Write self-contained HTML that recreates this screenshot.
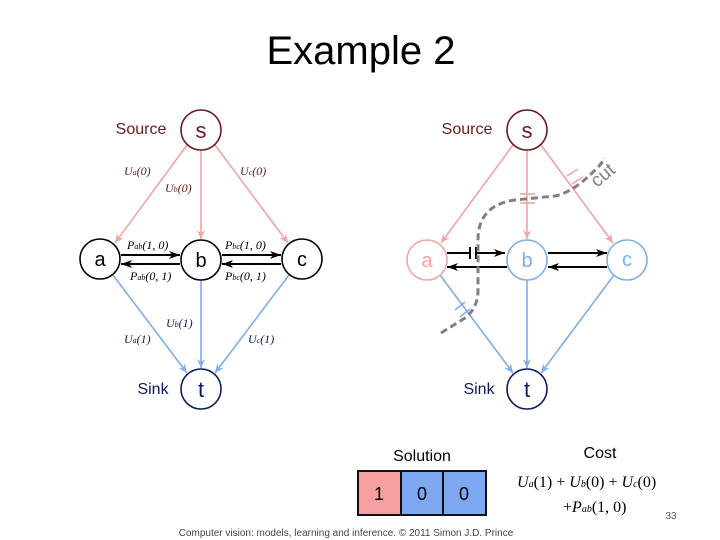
<!DOCTYPE html>
<html><head><meta charset="utf-8"><style>
html,body{margin:0;padding:0;background:#fff;}
svg{display:block;}
</style></head><body>
<svg width="720" height="540" viewBox="0 0 720 540" xmlns="http://www.w3.org/2000/svg" font-family="Liberation Sans, sans-serif">
<defs>
<marker id="ap" markerWidth="10" markerHeight="10" refX="9" refY="5" orient="auto" markerUnits="userSpaceOnUse"><path d="M0,1 L9,5 L0,9 L3,5z" fill="#f4a3a3"/></marker>
<marker id="ab" markerWidth="10" markerHeight="10" refX="9" refY="5" orient="auto" markerUnits="userSpaceOnUse"><path d="M0,1 L9,5 L0,9 L3,5z" fill="#7fadea"/></marker>
<marker id="ak" markerWidth="12" markerHeight="10" refX="11" refY="5" orient="auto" markerUnits="userSpaceOnUse"><path d="M0,1 L11,5 L0,9 L3,5z" fill="#000"/></marker>
</defs>
<text x="361" y="64" font-size="40" text-anchor="middle">Example 2</text>

<!-- LEFT GRAPH -->
<g fill="none" stroke-width="1.6">
<line x1="187" y1="145" x2="115" y2="243" stroke="#f4a3a3" marker-end="url(#ap)"/>
<line x1="201" y1="150" x2="201" y2="239" stroke="#f4a3a3" marker-end="url(#ap)"/>
<line x1="215" y1="145" x2="288" y2="243" stroke="#f4a3a3" marker-end="url(#ap)"/>
<line x1="113" y1="275" x2="187" y2="373" stroke="#7fadea" marker-end="url(#ab)"/>
<line x1="201" y1="280" x2="201" y2="368" stroke="#7fadea" marker-end="url(#ab)"/>
<line x1="289" y1="275" x2="215" y2="373" stroke="#7fadea" marker-end="url(#ab)"/>
<g stroke="#000" stroke-width="2">
<line x1="121" y1="255" x2="180" y2="255" marker-end="url(#ak)"/>
<line x1="180" y1="264" x2="121" y2="264" marker-end="url(#ak)"/>
<line x1="222" y1="255" x2="281" y2="255" marker-end="url(#ak)"/>
<line x1="281" y1="264" x2="222" y2="264" marker-end="url(#ak)"/>
</g>
<circle cx="201" cy="130" r="20" stroke="#6b1a1a" fill="#fff"/>
<circle cx="100" cy="259" r="20" stroke="#000" fill="#fff"/>
<circle cx="201" cy="260" r="20" stroke="#000" fill="#fff"/>
<circle cx="302" cy="259" r="20" stroke="#000" fill="#fff"/>
<circle cx="201" cy="389" r="20" stroke="#0d1b5e" fill="#fff"/>
</g>
<g font-size="20" text-anchor="middle">
<text x="201" y="138" fill="#6b1a1a" font-size="22">s</text>
<text x="100" y="266">a</text><text x="201" y="267">b</text><text x="302" y="266">c</text>
<text x="201" y="397" fill="#0d1b5e" font-size="22">t</text>
</g>
<text x="141" y="134" font-size="16" text-anchor="middle" fill="#6b1a1a">Source</text>
<text x="153" y="394" font-size="16" text-anchor="middle" fill="#0d1b5e">Sink</text>
<g font-family="Liberation Serif, serif" font-style="italic" font-size="12">
<g fill="#6b1a1a">
<text x="124" y="175">U<tspan font-size="8">a</tspan>(0)</text>
<text x="165" y="192">U<tspan font-size="8">b</tspan>(0)</text>
<text x="240" y="175">U<tspan font-size="8">c</tspan>(0)</text>
</g>
<g fill="#000">
<text x="127" y="249">P<tspan font-size="8">ab</tspan>(1, 0)</text>
<text x="130" y="280">P<tspan font-size="8">ab</tspan>(0, 1)</text>
<text x="225" y="249">P<tspan font-size="8">bc</tspan>(1, 0)</text>
<text x="225" y="280">P<tspan font-size="8">bc</tspan>(0, 1)</text>
</g>
<g fill="#0d1b5e">
<text x="124" y="343">U<tspan font-size="8">a</tspan>(1)</text>
<text x="166" y="327">U<tspan font-size="8">b</tspan>(1)</text>
<text x="248" y="343">U<tspan font-size="8">c</tspan>(1)</text>
</g>
</g>

<!-- RIGHT GRAPH -->
<g fill="none" stroke-width="1.6">
<line x1="513" y1="145" x2="441" y2="243" stroke="#f4a3a3" marker-end="url(#ap)"/>
<line x1="527" y1="150" x2="527" y2="239" stroke="#f4a3a3" marker-end="url(#ap)"/>
<line x1="541" y1="145" x2="613" y2="243" stroke="#f4a3a3" marker-end="url(#ap)"/>
<line x1="440" y1="275" x2="513" y2="373" stroke="#7fadea" marker-end="url(#ab)"/>
<line x1="527" y1="280" x2="527" y2="368" stroke="#7fadea" marker-end="url(#ab)"/>
<line x1="614" y1="275" x2="541" y2="373" stroke="#7fadea" marker-end="url(#ab)"/>
<g stroke="#f4a3a3"><line x1="520" y1="194" x2="535" y2="194"/><line x1="520" y1="203" x2="535" y2="203"/>
<line x1="567" y1="176" x2="578" y2="169"/><line x1="572" y1="184" x2="583" y2="177"/></g>
<g stroke="#7fadea"><line x1="455" y1="310" x2="465" y2="302"/><line x1="460" y1="317" x2="470" y2="309"/></g>
<g stroke="#000" stroke-width="2">
<line x1="447" y1="253" x2="470" y2="253"/><line x1="470" y1="247" x2="470" y2="259"/>
<line x1="476" y1="247" x2="476" y2="259"/><line x1="476" y1="253" x2="505" y2="253" marker-end="url(#ak)"/>
<line x1="507" y1="267" x2="447" y2="267" marker-end="url(#ak)"/>
<line x1="548" y1="253" x2="607" y2="253" marker-end="url(#ak)"/>
<line x1="607" y1="267" x2="548" y2="267" marker-end="url(#ak)"/>
</g>
<path d="M441,333 L465,318 Q478,308 478,290 L478,240 Q478,205 515,200 L555,196 Q575,192 600,165 L605,158" stroke="#808080" stroke-width="3" stroke-dasharray="7,4"/>
<circle cx="527" cy="130" r="20" stroke="#6b1a1a" fill="#fff"/>
<circle cx="427" cy="260" r="20" stroke="#f4a3a3" fill="#fff"/>
<circle cx="527" cy="260" r="20" stroke="#7fadea" fill="#fff"/>
<circle cx="627" cy="260" r="20" stroke="#7fadea" fill="#fff"/>
<circle cx="527" cy="389" r="20" stroke="#0d1b5e" fill="#fff"/>
</g>
<g font-size="20" text-anchor="middle">
<text x="527" y="138" fill="#6b1a1a" font-size="22">s</text>
<text x="427" y="267" fill="#f4a3a3">a</text><text x="527" y="267" fill="#7fadea">b</text><text x="627" y="266" fill="#7fadea">c</text>
<text x="527" y="397" fill="#0d1b5e" font-size="22">t</text>
</g>
<text x="467" y="134" font-size="16" text-anchor="middle" fill="#6b1a1a">Source</text>
<text x="479" y="394" font-size="16" text-anchor="middle" fill="#0d1b5e">Sink</text>
<text x="0" y="0" font-size="19" fill="#808080" transform="translate(597,188) rotate(-40)">cut</text>

<!-- Solution -->
<text x="422" y="461" font-size="16" text-anchor="middle">Solution</text>
<rect x="358" y="471" width="43" height="44" fill="#f4a0a0" stroke="#111" stroke-width="2"/>
<rect x="401" y="471" width="42" height="44" fill="#7ea8f2" stroke="#111" stroke-width="2"/>
<rect x="443" y="471" width="43" height="44" fill="#7ea8f2" stroke="#111" stroke-width="2"/>
<g font-size="18" text-anchor="middle"><text x="379" y="500">1</text><text x="422" y="500">0</text><text x="464" y="500">0</text></g>
<text x="600" y="458" font-size="16" text-anchor="middle">Cost</text>
<g font-family="Liberation Serif, serif" font-size="16">
<text x="517" y="487"><tspan font-style="italic">U</tspan><tspan font-style="italic" font-size="10">a</tspan>(1) + <tspan font-style="italic">U</tspan><tspan font-style="italic" font-size="10">b</tspan>(0) + <tspan font-style="italic">U</tspan><tspan font-style="italic" font-size="10">c</tspan>(0)</text>
<text x="563" y="512">+<tspan font-style="italic">P</tspan><tspan font-style="italic" font-size="10">ab</tspan>(1, 0)</text>
</g>
<text x="671" y="519" font-size="10" text-anchor="middle" fill="#555">33</text>
<text x="346" y="536" font-size="10" text-anchor="middle" fill="#444">Computer vision: models, learning and inference.  © 2011 Simon J.D. Prince</text>
</svg>
</body></html>
